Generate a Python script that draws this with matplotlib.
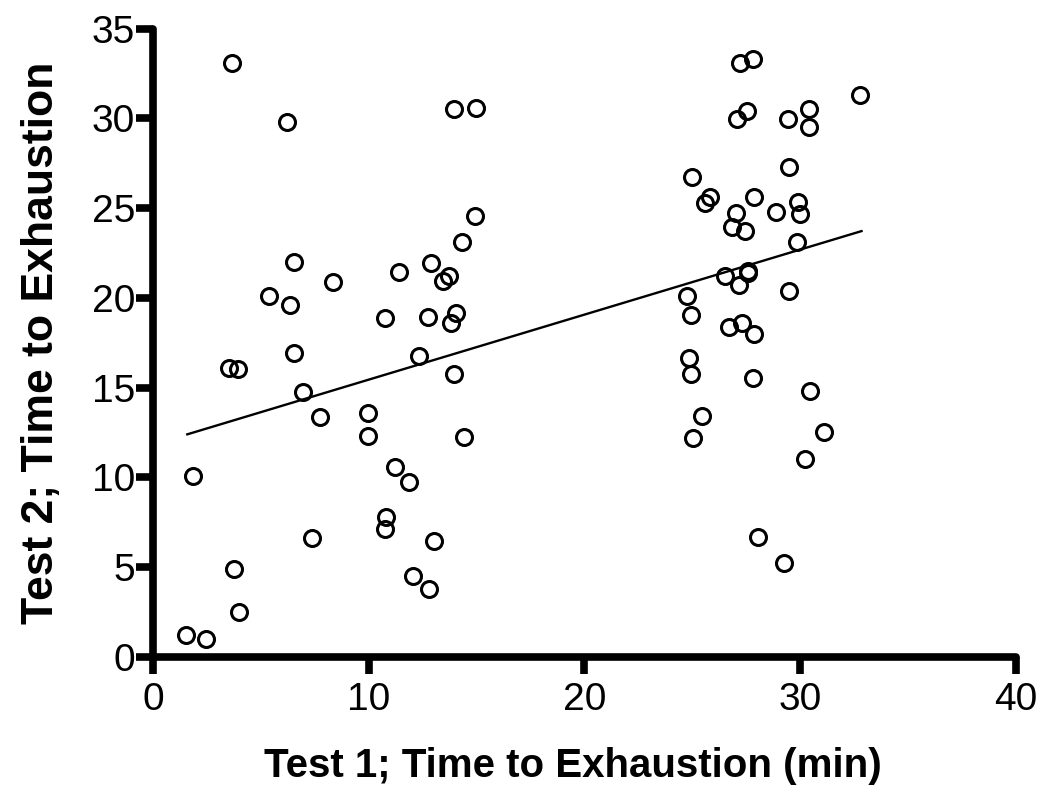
import numpy as np
import matplotlib
matplotlib.use("Agg")
import matplotlib.pyplot as plt

plt.rcParams['font.family'] = ['Liberation Sans', 'DejaVu Sans']

# test 1 (x) and test 2 (y) times to exhaustion
test1 = [3.65, 6.19, 13.95, 14.97, 14.94, 14.32, 6.55, 8.33, 11.41, 12.88,
         13.73, 13.45, 5.38, 6.36, 10.77, 12.76, 14.04, 13.81,
         6.53, 3.52, 3.95, 12.33, 13.95, 6.94, 7.74, 9.96, 9.96, 14.43,
         1.87, 11.21, 11.85, 10.80, 10.74, 7.35, 13.02, 3.75, 12.06, 12.79,
         4.00, 1.53, 2.44,
         27.23, 27.82, 32.76, 27.51, 27.09, 29.44, 30.40, 30.40, 29.47, 24.98,
         25.84, 25.58, 27.86, 27.00, 28.90, 29.90, 29.98, 26.86, 27.43, 29.83,
         26.51, 27.56, 27.60, 27.15, 29.47, 24.73, 24.96, 26.69, 27.28, 27.85,
         24.84, 24.96, 27.82, 30.43, 25.45, 31.11, 25.04, 30.24, 28.05, 29.24]
test2 = [33.06, 29.80, 30.50, 30.60, 24.56, 23.10, 22.00, 20.90, 21.45, 21.97,
         21.20, 20.95, 20.10, 19.60, 18.86, 18.91, 19.17, 18.61,
         16.91, 16.11, 16.04, 16.76, 15.74, 14.74, 13.38, 13.57, 12.31, 12.27,
         10.10, 10.56, 9.73, 7.78, 7.11, 6.61, 6.46, 4.88, 4.51, 3.77,
         2.52, 1.22, 0.98,
         33.06, 33.28, 31.29, 30.42, 29.95, 29.99, 30.51, 29.53, 27.27, 26.71,
         25.60, 25.30, 25.63, 24.74, 24.80, 25.35, 24.65, 23.93, 23.74, 23.13,
         21.21, 21.50, 21.37, 20.71, 20.40, 20.10, 19.04, 18.39, 18.61, 17.98,
         16.63, 15.74, 15.52, 14.83, 13.42, 12.51, 12.18, 11.01, 6.66, 5.22]

# regression line as drawn in the figure
line_x = [1.59, 32.84]
line_y = [12.40, 23.72]

fig = plt.figure(figsize=(10.5, 8.07), dpi=100)
ax = fig.add_axes([0.1457, 0.1859, 0.8219, 0.7787])

ax.plot(test1, test2, 'o', ms=11.5, mfc='none', mec='black', mew=2.2, clip_on=False)
ax.plot(line_x, line_y, '-', color='black', lw=1.7)

ax.set_xlim(0, 40)
ax.set_ylim(0, 35)
ax.set_xticks([0, 10, 20, 30, 40])
ax.set_yticks([0, 5, 10, 15, 20, 25, 30, 35])

for s in ['top', 'right']:
    ax.spines[s].set_visible(False)
for s in ['left', 'bottom']:
    ax.spines[s].set_linewidth(5.5)
    ax.spines[s].set_capstyle('round')

ax.tick_params(direction='out', length=12, width=5.5, labelsize=28)
ax.tick_params(axis='y', pad=1)
ax.tick_params(axis='x', pad=6)

ax.set_xlabel('Test 1; Time to Exhaustion (min)', fontsize=29, fontweight='bold')
ax.set_ylabel('Test 2; Time to Exhaustion', fontsize=32, fontweight='bold', labelpad=21)
ax.xaxis.set_label_coords(0.487, -0.143)
ax.xaxis.label.set_va('top')

fig.savefig('out.png', dpi=100)
